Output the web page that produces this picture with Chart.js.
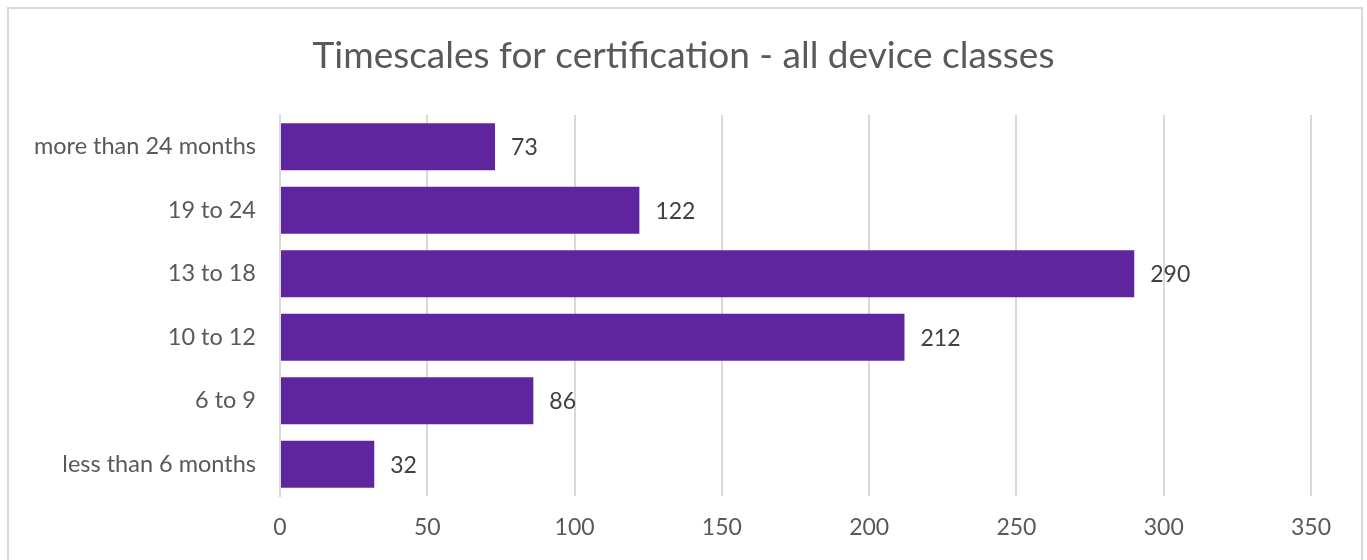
<!DOCTYPE html>
<html>
<head>
<meta charset="utf-8">
<script src="https://cdn.jsdelivr.net/npm/chart.js@4.4.1/dist/chart.umd.min.js"></script>
<style>
  html, body { margin: 0; padding: 0; background: #ffffff; }
  #wrap { position: relative; width: 1367px; height: 560px; }
</style>
</head>
<body>
<div id="wrap"><canvas id="c" width="1367" height="560"></canvas></div>
<script>
const titleText = "Timescales for certification - all device classes";
const categories = ["more than 24 months", "19 to 24", "13 to 18", "10 to 12", "6 to 9", "less than 6 months"];
const counts = [73, 122, 290, 212, 86, 32];
const xMin = 0;
const xMax = 350;
const xStep = 50;

const FONT = "Lato, 'Open Sans', sans-serif";

const framePlugin = {
  id: 'frame',
  beforeDraw(chart) {
    const ctx = chart.ctx;
    ctx.save();
    ctx.fillStyle = '#ffffff';
    ctx.fillRect(0, 0, chart.width, chart.height);
    ctx.strokeStyle = '#d9d9d9';
    ctx.lineWidth = 2;
    ctx.beginPath();
    ctx.moveTo(8, 562);
    ctx.lineTo(8, 8);
    ctx.lineTo(1362, 8);
    ctx.lineTo(1362, 562);
    ctx.stroke();
    ctx.restore();
  }
};

const centeredTitle = {
  id: 'centeredTitle',
  afterDraw(chart) {
    const ctx = chart.ctx;
    ctx.save();
    ctx.font = "37px " + FONT;
    ctx.fillStyle = '#595959';
    ctx.textAlign = 'center';
    ctx.textBaseline = 'middle';
    ctx.fillText(titleText, chart.width / 2, 56);
    ctx.restore();
  }
};

const labelPlugin = {
  id: 'barLabels',
  afterDatasetsDraw(chart) {
    const ctx = chart.ctx;
    const meta = chart.getDatasetMeta(0);
    ctx.save();
    ctx.font = "23px " + FONT;
    ctx.fillStyle = '#404040';
    ctx.textAlign = 'left';
    ctx.textBaseline = 'middle';
    meta.data.forEach((bar, i) => {
      ctx.fillText(String(chart.data.datasets[0].data[i]), bar.x + 16, bar.y + 1);
    });
    ctx.restore();
  }
};

new Chart(document.getElementById('c'), {
  type: 'bar',
  data: {
    labels: categories,
    datasets: [{
      data: counts,
      backgroundColor: '#5f259f',
      borderWidth: 0,
      barPercentage: 0.74,
      categoryPercentage: 1.0
    }]
  },
  options: {
    indexAxis: 'y',
    responsive: false,
    animation: false,
    devicePixelRatio: 1,
    layout: { padding: { left: 20, right: 56, top: 115, bottom: 0 } },
    plugins: {
      legend: { display: false },
      tooltip: { enabled: false },
      title: { display: false }
    },
    scales: {
      x: {
        min: xMin,
        max: xMax,
        ticks: {
          stepSize: xStep,
          color: '#595959',
          font: { family: FONT, size: 23 },
          padding: 18
        },
        grid: { color: '#d9d9d9', lineWidth: 2, drawTicks: false },
        border: { display: false },
        afterFit(s) { s.height = 64; }
      },
      y: {
        ticks: {
          color: '#595959',
          font: { family: FONT, size: 23.5 },
          padding: 24
        },
        grid: { display: false, drawTicks: false },
        border: { display: true, color: '#d9d9d9', width: 2 },
        afterFit(s) { s.width = 260; }
      }
    }
  },
  plugins: [framePlugin, labelPlugin, centeredTitle]
});
</script>
</body>
</html>
